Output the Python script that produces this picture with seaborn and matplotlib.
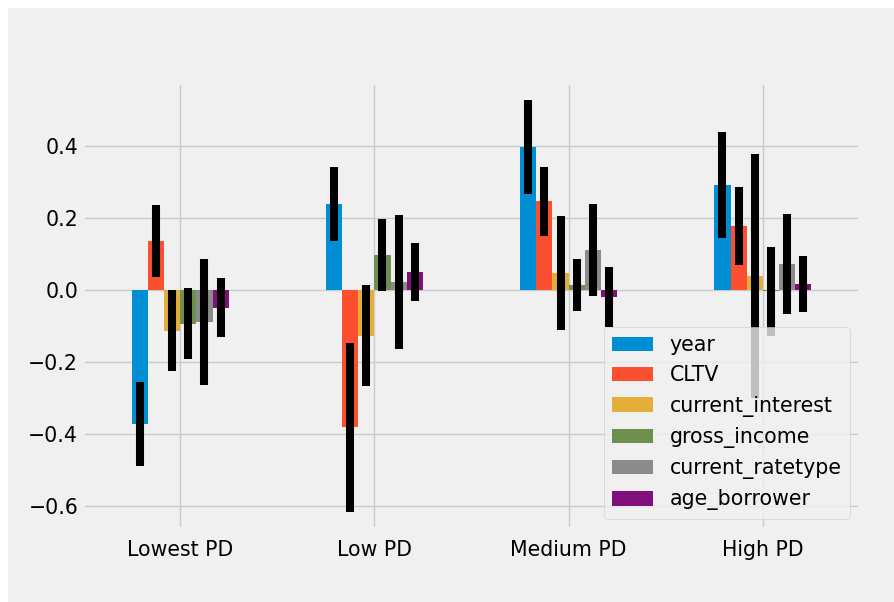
import matplotlib
matplotlib.use("Agg")
import matplotlib.pyplot as plt
from matplotlib.patches import Rectangle
import numpy as np
import pandas as pd
import seaborn as sns

# Mean coefficient per PD bucket, with its spread
groups = ["Lowest PD", "Low PD", "Medium PD", "High PD"]
features = ["year", "CLTV", "current_interest", "gross_income",
            "current_ratetype", "age_borrower"]

year = [-0.373, 0.239, 0.397, 0.292]
cltv = [0.136, -0.382, 0.247, 0.178]
current_interest = [-0.113, -0.127, 0.047, 0.039]
gross_income = [-0.094, 0.097, 0.014, -0.004]
current_ratetype = [-0.088, 0.022, 0.111, 0.072]
age_borrower = [-0.049, 0.050, -0.019, 0.017]

year_err = [0.116, 0.102, 0.130, 0.147]
cltv_err = [0.099, 0.235, 0.096, 0.108]
current_interest_err = [0.113, 0.141, 0.158, 0.338]
gross_income_err = [0.099, 0.0995, 0.073, 0.124]
current_ratetype_err = [0.175, 0.186, 0.128, 0.138]
age_borrower_err = [0.082, 0.080, 0.083, 0.078]

values = [year, cltv, current_interest, gross_income, current_ratetype, age_borrower]
errors = [year_err, cltv_err, current_interest_err, gross_income_err,
          current_ratetype_err, age_borrower_err]

rows = []
for feat, vals, errs in zip(features, values, errors):
    for g, v, e in zip(groups, vals, errs):
        rows.append({"group": g, "feature": feat, "value": v, "err": e})
df = pd.DataFrame(rows)

plt.style.use("fivethirtyeight")
palette = ["#008fd5", "#fc4f30", "#e5ae38", "#6d904f", "#8b8b8b", "#810f7c"]
FS = 14.8

fig = plt.figure(figsize=(8.94, 6.02), dpi=100, facecolor="white")
fig.patches.append(Rectangle((8 / 894, 0), 1, (602 - 8) / 602,
                             transform=fig.transFigure, facecolor="#f0f0f0",
                             edgecolor="none", zorder=-10))
ax = fig.add_axes([83 / 894, (602 - 529) / 602, (860 - 83) / 894, (529 - 83) / 602])

sns.barplot(data=df, x="group", y="value", hue="feature", order=groups,
            hue_order=features, palette=palette, saturation=1, width=0.5,
            errorbar=None, ax=ax)

# error bars centred on each bar
for feat, container in zip(features, ax.containers):
    sub = df[df["feature"] == feat].set_index("group").loc[groups]
    xs = [p.get_x() + p.get_width() / 2 for p in container.patches]
    ax.errorbar(xs, sub["value"].values, yerr=sub["err"].values, fmt="none",
                ecolor="black", elinewidth=5.8, capsize=0, zorder=3)

ax.set_xlim(-0.5, len(groups) - 0.5)
ax.set_ylim(-0.664, 0.575)
ax.set_xlabel("")
ax.set_ylabel("")
ax.xaxis.grid(True)
ax.yaxis.grid(True)
ax.set_yticks([-0.6, -0.4, -0.2, 0.0, 0.2, 0.4])
ax.tick_params(axis="both", labelsize=FS)
ax.tick_params(axis="x", pad=8)

handles, labels = ax.get_legend_handles_labels()
ax.legend(handles[:len(features)], labels[:len(features)], loc="lower right",
          fontsize=FS)

fig.savefig("out.png", dpi=100, facecolor="white")
